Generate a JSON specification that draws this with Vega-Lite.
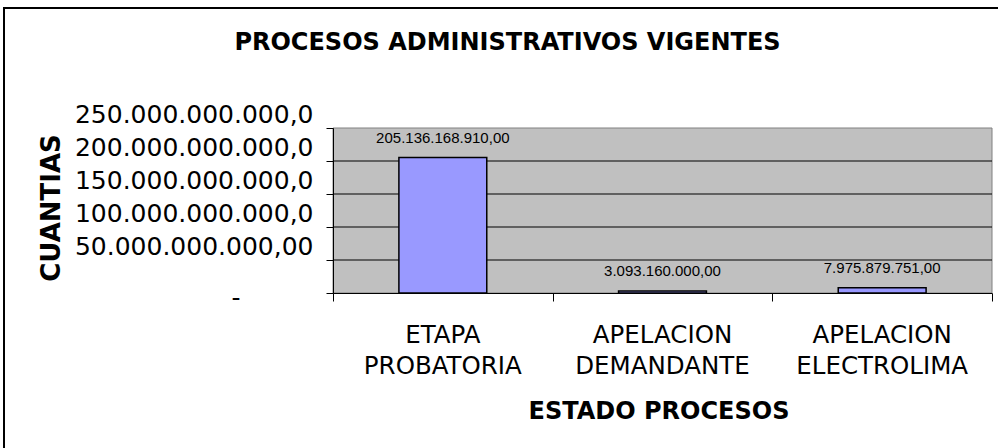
{
  "$schema": "https://vega.github.io/schema/vega-lite/v6.json",
  "width": 1000,
  "height": 446,
  "autosize": {"type": "none"},
  "padding": {"left": 4, "top": 8, "right": -6, "bottom": -6},
  "background": "white",
  "title": {
    "text": "PROCESOS ADMINISTRATIVOS VIGENTES",
    "font": "DejaVu Sans",
    "fontSize": 24,
    "fontWeight": "bold",
    "color": "#000",
    "anchor": "middle",
    "baseline": "alphabetic",
    "offset": 0,
    "dx": 3.5,
    "dy": 66
  },
  "config": {
    "locale": {"number": {"decimal": ",", "thousands": ".", "grouping": [3], "currency": ["$", ""]}},
    "view": {"stroke": "#000", "strokeWidth": 2, "strokeDash": [1000, 1446, 446]}
  },
  "layer": [
    {
      "data": {"values": [{"lo": 0, "hi": 3, "bottom": 0, "top": 250000000000}]},
      "mark": {"type": "rect", "fill": "#C0C0C0", "stroke": "#808080", "strokeWidth": 1},
      "encoding": {
        "x": {
          "field": "lo", "type": "quantitative",
          "scale": {"domain": [0, 3], "range": [329, 988], "nice": false, "zero": false},
          "axis": {"orient": "bottom", "offset": -161, "values": [0, 1, 2, 3], "labels": false, "title": null, "grid": false,
                   "tickSize": 8, "tickColor": "#000", "tickWidth": 1, "domainColor": "#000", "domainWidth": 1, "zindex": 1}
        },
        "x2": {"field": "hi"},
        "y": {
          "field": "bottom", "type": "quantitative",
          "scale": {"domain": [0, 250000000000], "range": [285, 120], "nice": false, "zero": false},
          "axis": null
        },
        "y2": {"field": "top"}
      }
    },
    {
      "data": {"values": [
        {"lo": 0, "hi": 3, "g": 50000000000},
        {"lo": 0, "hi": 3, "g": 100000000000},
        {"lo": 0, "hi": 3, "g": 150000000000},
        {"lo": 0, "hi": 3, "g": 200000000000}
      ]},
      "mark": {"type": "rule", "color": "#000", "strokeWidth": 1},
      "encoding": {
        "x": {"field": "lo", "type": "quantitative", "scale": {"domain": [0, 3], "range": [329, 988], "nice": false, "zero": false}, "axis": null},
        "x2": {"field": "hi"},
        "y": {"field": "g", "type": "quantitative", "scale": {"domain": [0, 250000000000], "range": [285, 120], "nice": false, "zero": false}, "axis": null}
      }
    },
    {
      "data": {"values": [
        {"estado": "ETAPA PROBATORIA", "valor": 205136168910},
        {"estado": "APELACION DEMANDANTE", "valor": 3093160000},
        {"estado": "APELACION ELECTROLIMA", "valor": 7975879751}
      ]},
      "mark": {"type": "bar", "fill": "#9999FF", "stroke": "#000", "strokeWidth": 1.5},
      "encoding": {
        "x": {
          "field": "estado", "type": "nominal", "sort": null,
          "scale": {"range": [329, 988], "paddingInner": 0.6, "paddingOuter": 0.3},
          "axis": {"orient": "bottom", "offset": -161, "labelExpr": "split(datum.label, ' ')",
                   "labelFont": "DejaVu Sans", "labelFontSize": 24.5, "labelColor": "#000", "labelLineHeight": 31.7,
                   "labelBaseline": "alphabetic", "labelPadding": 49, "labelAngle": 0, "labelOverlap": false, "labelLimit": 400,
                   "ticks": false, "tickSize": 0, "domain": false,
                   "title": "ESTADO PROCESOS", "titleFont": "DejaVu Sans", "titleFontSize": 24, "titleFontWeight": "bold",
                   "titleColor": "#000", "titleX": 654.5, "titleY": 125, "titleAlign": "center", "titleBaseline": "alphabetic", "zindex": 1}
        },
        "y": {
          "field": "valor", "type": "quantitative",
          "scale": {"domain": [0, 250000000000], "range": [285, 120], "nice": false, "zero": false},
          "axis": {
            "orient": "left", "offset": -329,
            "values": [0, 50000000000, 100000000000, 150000000000, 200000000000, 250000000000],
            "labelExpr": "datum.value == 0 ? '-' : format(datum.value, datum.value < 100000000000 ? ',.2f' : ',.1f')",
            "labelFont": "DejaVu Sans", "labelFontSize": 25, "labelColor": "#000", "labelLimit": 400,
            "labelBaseline": "alphabetic", "labelAlign": "right", "labelFlush": false, "labelOverlap": false,
            "labelOffset": {"condition": {"test": "datum.value == 0", "value": 12}, "value": -6},
            "labelPadding": {"condition": {"test": "datum.value == 0", "value": 86}, "value": 13},
            "tickSize": 7, "tickColor": "#000", "tickWidth": 1, "domainColor": "#000", "domainWidth": 1, "grid": false,
            "title": "CUANTIAS", "titleFont": "DejaVu Sans", "titleFontSize": 26, "titleFontWeight": "bold", "titleColor": "#000",
            "titleAngle": -90, "titleX": -274, "titleY": 199.5, "titleAlign": "center", "titleBaseline": "alphabetic", "zindex": 1
          }
        }
      }
    },
    {
      "data": {"values": [
        {"estado": "ETAPA PROBATORIA", "valor": 205136168910},
        {"estado": "APELACION DEMANDANTE", "valor": 3093160000},
        {"estado": "APELACION ELECTROLIMA", "valor": 7975879751}
      ]},
      "mark": {"type": "text", "font": "Liberation Sans", "fontSize": 15, "color": "#000", "baseline": "alphabetic", "align": "center", "dy": -15},
      "encoding": {
        "x": {"field": "estado", "type": "nominal", "sort": null, "scale": {"range": [329, 988], "paddingInner": 0.6, "paddingOuter": 0.3}, "axis": null},
        "y": {"field": "valor", "type": "quantitative", "scale": {"domain": [0, 250000000000], "range": [285, 120], "nice": false, "zero": false}, "axis": null},
        "text": {"field": "valor", "type": "quantitative", "format": ",.2f"}
      }
    }
  ],
  "resolve": {"scale": {"x": "independent", "y": "independent"}, "axis": {"x": "independent", "y": "independent"}}
}
